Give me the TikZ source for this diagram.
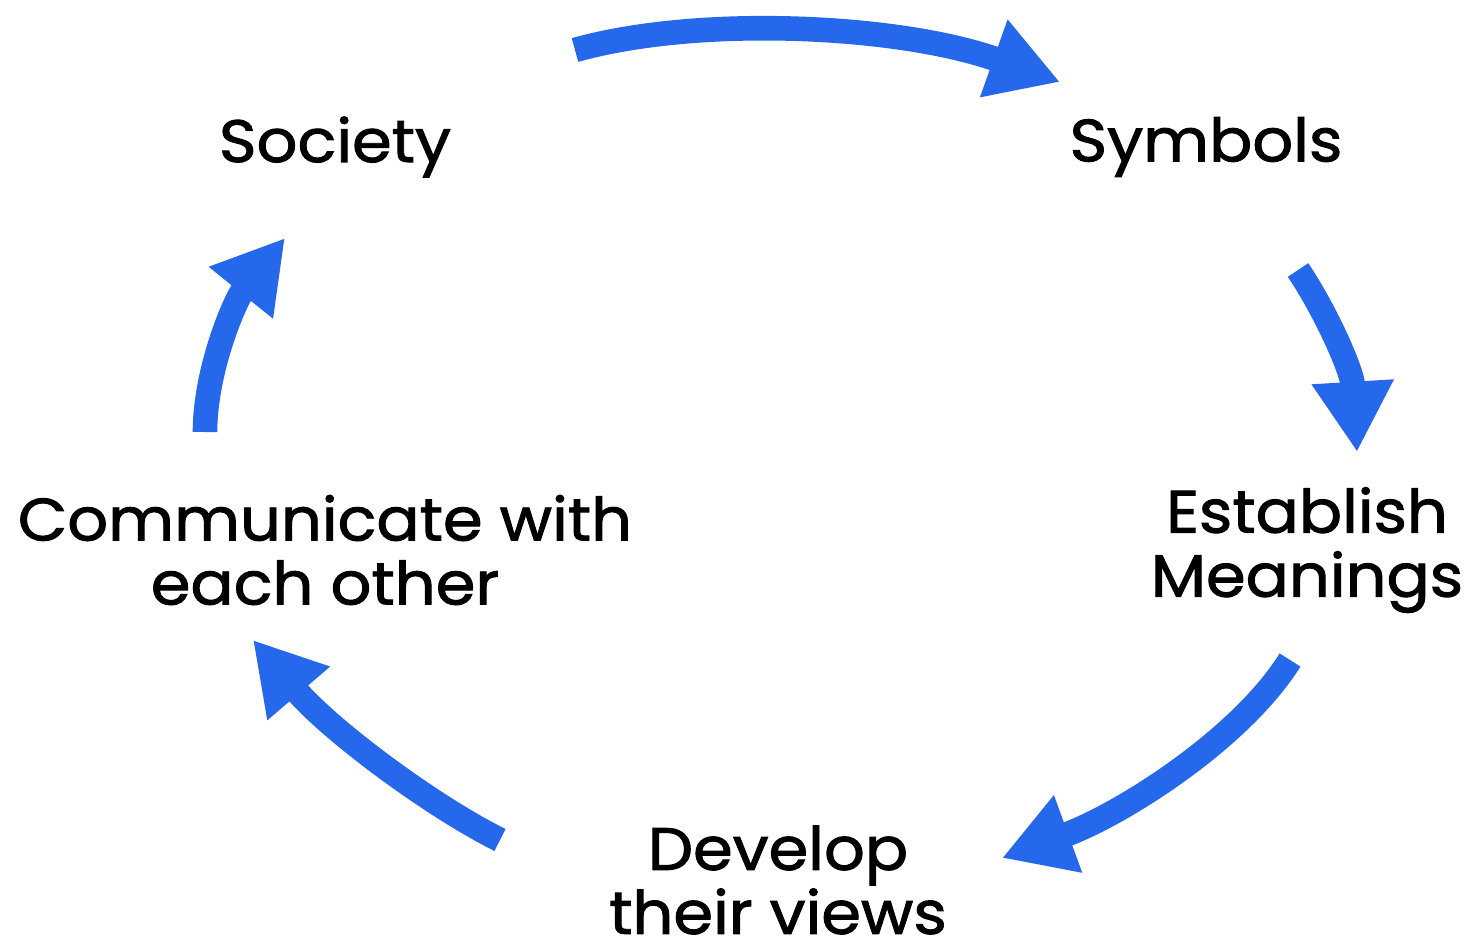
\documentclass[tikz,border=0pt]{standalone}
\usepackage{fontspec}
\setmainfont{Poppins}[FakeBold=1.6, FakeStretch=1.07]
\usetikzlibrary{arrows.meta}
\definecolor{cycleblue}{RGB}{38,104,236}

\begin{document}
\begin{tikzpicture}[x=0.01cm, y=-0.01cm]
    \tikzstyle{stage label}=[align=center, font=\fontsize{17}{18.2}\selectfont, inner sep=0pt]
    \tikzstyle{cycle arrow}=[draw=cycleblue, line width=7pt, -{Triangle[width=22pt,length=20pt]}]

    \useasboundingbox (0,0) rectangle (1470,939);

    % Draw the stage labels
    \node[stage label] (society) at (335,147) {Society};
    \node[stage label] (symbols) at (1206,147) {Symbols};
    \node[stage label] (meanings) at (1307,550) {Establish\\Meanings};
    \node[stage label] (views) at (778,880) {Develop\\their views};
    \node[stage label] (communicate) at (325,550) {Communicate with\\each other};

    % Free ends of the arrows
    \coordinate (from1) at (575,50);   \coordinate (to1) at (1060,82);
    \coordinate (from2) at (1298,270); \coordinate (to2) at (1357,452);
    \coordinate (from3) at (1290,660); \coordinate (to3) at (1002,858);
    \coordinate (from4) at (500,840);  \coordinate (to4) at (253,640);
    \coordinate (from5) at (205,432);  \coordinate (to5) at (285,238);

    % Connect the stages round the cycle
    \draw[cycle arrow] (from1) .. controls (700,15) and (900,25) .. (to1);
    \draw[cycle arrow] (from2) .. controls (1325,310) and (1352,370) .. (to2);
    \draw[cycle arrow] (from3) .. controls (1240,740) and (1120,815) .. (to3);
    \draw[cycle arrow] (from4) .. controls (430,805) and (330,730) .. (to4);
    \draw[cycle arrow] (from5) .. controls (205,370) and (235,300) .. (to5);
\end{tikzpicture}
\end{document}
